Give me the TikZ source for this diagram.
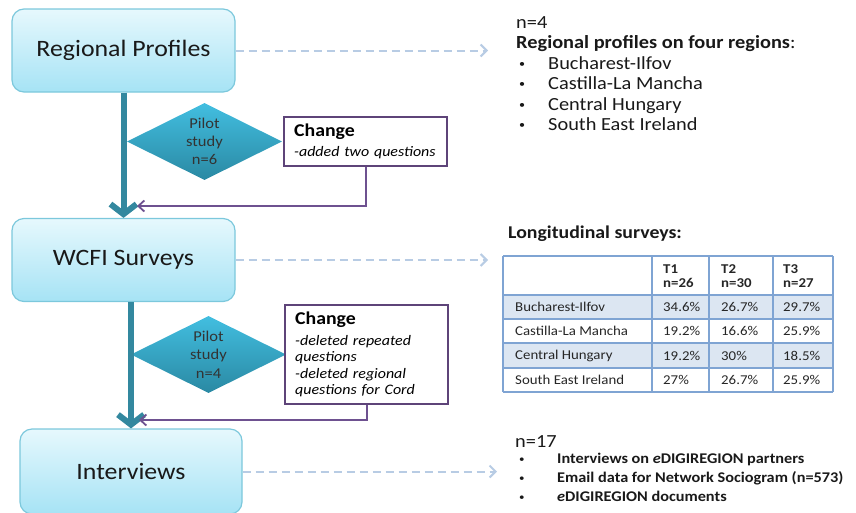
\documentclass[tikz,border=0pt]{standalone}
\usepackage{fontspec}
\setmainfont{Carlito}[FakeStretch=1.1]
\usepackage{tikz}
\usetikzlibrary{shapes.geometric,arrows.meta,positioning}

\definecolor{boxline}{HTML}{7CC8DC}
\definecolor{boxtop}{HTML}{E6F8FD}
\definecolor{boxbot}{HTML}{A6E3F5}
\definecolor{pilottop}{HTML}{42BEE0}
\definecolor{pilotbot}{HTML}{2A89A3}
\definecolor{flowcol}{HTML}{33889F}
\definecolor{chgline}{HTML}{5E4479}
\definecolor{backcol}{HTML}{6E5190}
\definecolor{linkcol}{HTML}{B8CCE4}
\definecolor{tabline}{HTML}{7FA4D3}
\definecolor{tabfill}{HTML}{DCE6F2}

\newcommand{\bitem}{\makebox[32pt][l]{\hspace{3pt}\raisebox{2pt}{\fontsize{11}{11}\selectfont\textbullet}}}
\newcommand{\sitem}{\makebox[42pt][l]{\hspace{4pt}\raisebox{1pt}{\fontsize{10}{10}\selectfont\textbullet}}}

\begin{document}
\begin{tikzpicture}[
    x=1pt, y=-1pt,
    stage/.style={rectangle, draw=boxline, line width=1.2pt, top color=boxtop, bottom color=boxbot, rounded corners=12pt, minimum width=223pt, minimum height=83pt, text=black!90, font=\fontsize{23.5}{28}\selectfont},
    pilot/.style={diamond, aspect=2, inner sep=0pt, top color=pilottop, bottom color=pilotbot, minimum width=155pt, minimum height=77pt, align=center, text=black!80, font=\fontsize{15}{18.3}\selectfont},
    change/.style={rectangle, draw=chgline, line width=2pt, fill=white, text width=143pt, inner xsep=10pt, inner ysep=7pt, align=left, font=\fontsize{14.5}{16.5}\selectfont},
    flow/.style={-{Straight Barb[length=10pt,width=26pt]}, line width=6pt, color=flowcol},
    back/.style={-{Straight Barb[length=6pt,width=11pt]}, line width=1.8pt, color=backcol},
    link/.style={-{Straight Barb[length=6pt,width=12pt]}, line width=2pt, dash pattern=on 8pt off 5pt, color=linkcol},
    info/.style={anchor=north west, align=left, inner sep=0pt, text=black!90, font=\fontsize{18.5}{20.4}\selectfont},
    cell/.style={anchor=west, inner sep=0pt, text=black!85, font=\fontsize{13.5}{14}\selectfont}
]
    \useasboundingbox (0,0) rectangle (856,512);

    % stages
    \node[stage] (profiles) at (123.5, 50.5) {Regional Profiles};
    \node[stage] (surveys) at (123.5, 260) {WCFI Surveys};
    \node[stage, minimum width=222pt, minimum height=85pt] (interviews) at (131, 471.5) {Interviews};

    % pilot studies
    \node[pilot] (pilot1) at (204.5, 141.5) {Pilot\\study\\n=6};
    \node[pilot] (pilot2) at (208.5, 354.5) {Pilot\\study\\n=4};
    \node[change, right=1pt of pilot1] (change1) {{\fontsize{18}{20}\selectfont\bfseries Change}\\[4pt]\textit{-added two questions}};
    \node[change, right=-2pt of pilot2] (change2) {{\fontsize{18}{20}\selectfont\bfseries Change}\\[4pt]\textit{-deleted repeated}\\\textit{questions}\\\textit{-deleted regional}\\\textit{questions for Cord}};

    \draw[flow] (profiles.south) -- (surveys.north);
    \draw[flow] (surveys.south -| interviews.north) -- (interviews.north);

    \coordinate (join1) at (137, 206);
    \coordinate (join2) at (139, 420);
    \draw[back] (change1.south) |- (join1);
    \draw[back] (change2.south) |- (join2);

    % dashed links to the results
    \coordinate (rpEnd) at (488, 50.5);
    \coordinate (svEnd) at (488, 260);
    \coordinate (ivEnd) at (497, 471.5);
    \draw[link] (profiles) -- (rpEnd);
    \draw[link] (surveys) -- (svEnd);
    \draw[link] (interviews) -- (ivEnd);

    \node[info] (rpinfo) at (516, 16.5) {n=4\\\textbf{Regional profiles on four regions}:\\\bitem Bucharest-Ilfov\\\bitem Castilla-La Mancha\\\bitem Central Hungary\\\bitem South East Ireland};

    \node[info, font=\fontsize{14.8}{19}\selectfont] (ivinfo) at (515, 435) {{\fontsize{18.5}{19}\selectfont n=17}\\[-3pt]\sitem\textbf{Interviews on \textit{e}DIGIREGION partners}\\\sitem\textbf{Email data for Network Sociogram (n=573)}\\\sitem\textbf{\textit{e}DIGIREGION documents}};

    % survey table
    \node[anchor=base west, inner sep=0pt, text=black!90, font=\fontsize{18}{20}\selectfont\bfseries] (survtitle) at (508, 238) {Longitudinal surveys:};
    \fill[tabfill] (503,295) rectangle (833,319);
    \fill[tabfill] (503,343) rectangle (833,368);
    \foreach \x in {503,652,709,773,833}
        \draw[tabline, line width=1.3pt] (\x,256) -- (\x,392);
    \foreach \y in {256,319,343,368,392}
        \draw[tabline, line width=1.3pt] (503,\y) -- (833,\y);
    \draw[tabline, line width=2.6pt] (503,295) -- (833,295);

    \foreach \t/\n/\x [count=\i] in {T1/26/663, T2/30/721, T3/27/783}
        \node[cell, align=left, font=\fontsize{13.5}{14}\selectfont\bfseries] (head\i) at (\x, 276) {\t\\n=\n};

    \foreach \name/\a/\b/\c/\y [count=\i] in {Bucharest-Ilfov/34.6\%/26.7\%/29.7\%/307,
        Castilla-La Mancha/19.2\%/16.6\%/25.9\%/331,
        Central Hungary/19.2\%/30\%/18.5\%/355.5,
        South East Ireland/27\%/26.7\%/25.9\%/380} {
        \node[cell] (lab\i) at (515, \y) {\name};
        \node[cell] (ta\i) at (663, \y) {\a};
        \node[cell] (tb\i) at (721, \y) {\b};
        \node[cell] (tc\i) at (783, \y) {\c};
    }
\end{tikzpicture}
\end{document}
